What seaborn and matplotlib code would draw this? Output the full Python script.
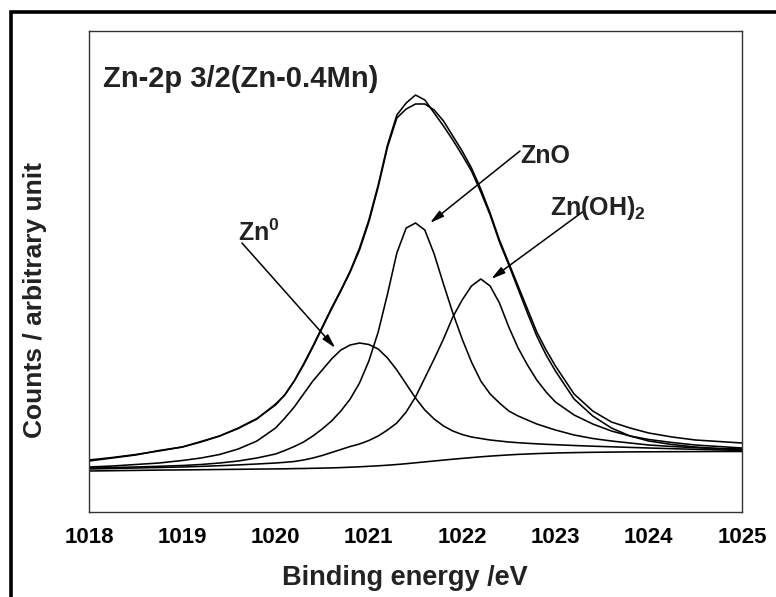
import matplotlib
matplotlib.use("Agg")
import matplotlib.pyplot as plt
from matplotlib.patches import Rectangle
from matplotlib.ticker import MultipleLocator
import seaborn as sns
import pandas as pd

# ---- data (binding energy in eV, intensity in arbitrary units) ----
energy = [1018.0, 1018.25, 1018.5, 1018.75, 1019.0, 1019.2, 1019.4, 1019.6, 1019.8,
          1020.0, 1020.1, 1020.2, 1020.3, 1020.4, 1020.5, 1020.6, 1020.7, 1020.8, 1020.9,
          1021.0, 1021.1, 1021.2, 1021.3, 1021.4, 1021.5, 1021.6, 1021.7, 1021.8, 1021.9,
          1022.0, 1022.1, 1022.2, 1022.3, 1022.4, 1022.5, 1022.6, 1022.7, 1022.8, 1022.9,
          1023.0, 1023.2, 1023.4, 1023.6, 1023.8, 1024.0, 1024.25, 1024.5, 1024.75, 1025.0]

background = [41, 41.3, 41.6, 41.9, 42.1, 42.3, 42.5, 42.7, 42.9,
              43.1, 43.2, 43.4, 43.5, 43.7, 43.9, 44.1, 44.4, 44.8, 45.2,
              45.7, 46.2, 46.8, 47.5, 48.3, 49.2, 50.1, 51.0, 51.9, 52.8,
              53.6, 54.4, 55.2, 55.9, 56.5, 57.1, 57.6, 58.0, 58.4, 58.7,
              59.0, 59.4, 59.7, 59.9, 60.1, 60.2, 60.3, 60.4, 60.5, 60.5]

zn0 = [45, 46, 47.5, 49, 51.5, 54, 57.5, 63, 71,
       84, 94, 105, 118, 131, 142, 153, 162, 167, 169,
       167.5, 163, 154, 142, 128, 114, 102, 93, 86, 81,
       77.5, 75, 73.5, 72, 71, 70, 69.3, 68.7, 68.2, 67.7,
       67.3, 66.5, 65.8, 65.2, 64.6, 64, 63.3, 62.7, 62.1, 61.5]

zno = [44, 44.5, 45, 45.7, 46.5, 47.5, 49, 51, 54,
       58, 61.5, 65.5, 70, 76, 83, 91, 101, 113, 129,
       151, 180, 218, 259, 284, 289, 282, 258, 228, 199,
       173, 150, 131, 118, 109, 101, 96, 92, 88, 85,
       82, 77, 73.5, 71, 69, 67, 65.5, 64.3, 63.3, 62.5]

zn_oh2 = [43, 43.5, 44, 44.5, 45, 45.6, 46.3, 47.1, 48,
          49, 49.7, 50.5, 52, 54, 56.5, 59.5, 62.5, 65.5, 68,
          71.5, 76, 82, 89, 100, 115, 134, 153, 173, 195,
          212, 226, 233, 226, 209, 185, 164, 147, 132, 120,
          110, 97, 88, 81, 76, 72.5, 69.5, 67, 65.5, 64]

envelope = [52, 54.5, 57.5, 61, 65, 70, 76, 83.5, 93,
            108, 117, 131, 147, 165, 184, 203, 221, 240, 262,
            290, 325, 365, 394, 403, 408, 408, 402, 391, 376,
            361, 344, 323, 299, 272, 249, 226, 203, 180, 162,
            146, 118, 101, 90, 84, 79, 75, 72, 70.5, 69]

measured = [51, 54, 57, 61.5, 65, 70.5, 76, 84, 93.5,
            107, 117.5, 131, 148, 166, 185, 204, 222, 241, 264,
            292, 327, 367, 397, 409, 417, 412, 399, 386, 372,
            357, 341, 320, 297, 270, 247, 223, 199, 176, 157,
            141, 113, 96, 84, 76, 71, 67.5, 65, 63.5, 63]

xticks = [1018, 1019, 1020, 1021, 1022, 1023, 1024, 1025]
title_text = "Zn-2p 3/2(Zn-0.4Mn)"
xlabel_text = "Binding energy /eV"
ylabel_text = "Counts / arbitrary unit"

# ---- styling ----
sns.set_style("white")
plt.rcParams["font.family"] = ["Liberation Sans", "DejaVu Sans"]
plt.rcParams["font.weight"] = "bold"
plt.rcParams["mathtext.fontset"] = "custom"
plt.rcParams["mathtext.rm"] = "Liberation Sans:bold"
plt.rcParams["mathtext.bf"] = "Liberation Sans:bold"
plt.rcParams["mathtext.it"] = "Liberation Sans:bold"

fig = plt.figure(figsize=(7.76, 5.97), dpi=100)
ax = fig.add_axes([89 / 776, 1 - 512 / 597, (742 - 89) / 776, (512 - 31) / 597])

series = {"background": background, "Zn0": zn0, "ZnO": zno, "Zn(OH)2": zn_oh2,
          "envelope": envelope, "measured": measured}
frames = [pd.DataFrame({"energy": energy, "intensity": v, "curve": k}) for k, v in series.items()]
df = pd.concat(frames, ignore_index=True)

for name, sub in df.groupby("curve", sort=False):
    sns.lineplot(data=sub, x="energy", y="intensity", ax=ax, color="black",
                 lw=1.15, estimator=None, sort=True)

ax.set_xlim(1018, 1025)
ax.set_ylim(0, 481)
ax.set_xticks(xticks)
ax.set_xticklabels([str(t) for t in xticks])
ax.xaxis.set_minor_locator(MultipleLocator(0.5))
ax.set_yticks([])
ax.tick_params(axis="x", which="major", direction="in", length=7.5, width=1.0,
               labelsize=16, pad=10.5, top=False, colors="#222222", labelcolor="black")
ax.tick_params(axis="x", which="minor", direction="in", length=4, width=1.0, top=False,
               colors="#222222")
for lab in ax.get_xticklabels():
    lab.set_fontweight("bold")
for sp in ax.spines.values():
    sp.set_color("#333333")
    sp.set_linewidth(1.0)

ax.set_xlabel(xlabel_text, fontsize=19.5, fontweight="bold", color="#222222")
ax.set_ylabel(ylabel_text, fontsize=19, fontweight="bold", color="#222222")
ax.xaxis.set_label_coords(0.484, -0.11)
ax.yaxis.set_label_coords(-0.064, 0.44)

ax.text(1018.15, 425, title_text, fontsize=21, fontweight="bold", color="#222222",
        va="baseline", ha="left")

arrow_kw = dict(arrowstyle="-|>,head_length=0.7,head_width=0.18", lw=1.1, color="black",
                shrinkA=0, shrinkB=0, mutation_scale=12)

# Zn0
ax.text(1019.60, 271, r"Zn$^{0}$", fontsize=18, fontweight="bold", color="#222222",
        va="baseline", ha="left")
ax.annotate("", xy=(1020.64, 164), xytext=(1019.64, 269), arrowprops=arrow_kw)
# ZnO
ax.text(1022.62, 349, "ZnO", fontsize=18, fontweight="bold", color="#222222",
        va="baseline", ha="left")
ax.annotate("", xy=(1021.655, 289), xytext=(1022.62, 361), arrowprops=arrow_kw)
# Zn(OH)2
ax.text(1022.94, 297, r"Zn(OH)$_{2}$", fontsize=18, fontweight="bold", color="#222222",
        va="baseline", ha="left")
ax.annotate("", xy=(1022.31, 233), xytext=(1023.29, 300), arrowprops=arrow_kw)

# outer frame
fig.patches.append(Rectangle((10.5 / 776, -0.05), 1.2, 1 - 12 / 597 + 0.05,
                             transform=fig.transFigure, fill=False, lw=2.6,
                             ec="black", zorder=10))

fig.savefig("out.png", dpi=100)
